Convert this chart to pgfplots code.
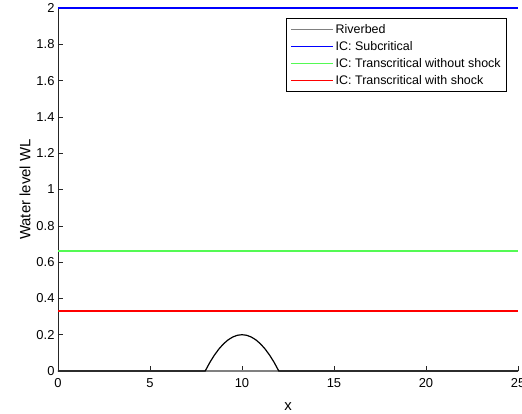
\documentclass[border=0pt]{standalone}
\usepackage[rgb]{xcolor}
\usepackage{pgfplots}
\pgfplotsset{compat=1.18}
\usepackage{fontspec}
\setmainfont{Liberation Sans}
\definecolor{axgray}{rgb}{0.15,0.15,0.15}
\definecolor{lgreen}{rgb}{0.33,0.98,0.33}
\definecolor{rbgray}{rgb}{0.5,0.5,0.5}
\definecolor{pblue}{rgb}{0,0,1}
\definecolor{pred}{rgb}{1,0,0}
\begin{document}
\begin{tikzpicture}
\begin{axis}[
  name=ax, at={(0,0)}, anchor=south west,
  scale only axis, width=460bp, height=363bp,
  xmin=0, xmax=25, ymin=0, ymax=2,
  xtick={0,5,10,15,20,25},
  ytick={0,0.2,0.4,0.6,0.8,1,1.2,1.4,1.6,1.8,2},
  yticklabels={0,0.2,0.4,0.6,0.8,1,1.2,1.4,1.6,1.8,2},
  xticklabels={0,5,10,15,20,25},
  axis x line*=bottom, axis y line*=left,
  axis line style={color=axgray, line width=0.8pt},
  tick style={color=axgray, line width=0.6pt},
  tick align=inside, major tick length=5bp,
  ticklabel style={font=\fontsize{13}{15}\selectfont},
  xticklabel style={yshift=-4pt},
  xlabel={x}, ylabel={Water level WL},
  label style={font=\fontsize{15}{17}\selectfont},
  xlabel style={yshift=-8pt},
  ylabel style={yshift=-1pt},
  clip=false,
  legend style={at={(0.976,0.972)}, anchor=north east, draw=black, line width=0.6pt,
    font=\fontsize{12.5}{15}\selectfont, inner xsep=4pt, inner ysep=4pt, row sep=2.4pt,
    legend cell align=left},
  legend image code/.code={\draw[#1] (0bp,0bp) -- (37bp,0bp); \path (0bp,0bp) -- (42bp,0bp);},
]
\addplot[color=rbgray, line width=1.4pt] coordinates {(0,0) (25,0)};
\addlegendentry{Riverbed}
\addplot[color=pblue, line width=1.4pt] coordinates {(0,2) (25,2)};
\addlegendentry{IC: Subcritical}
\addplot[color=lgreen, line width=1.5pt] coordinates {(0,0.66) (25,0.66)};
\addlegendentry{IC: Transcritical without shock}
\addplot[color=pred, line width=1.4pt] coordinates {(0,0.33) (25,0.33)};
\addlegendentry{IC: Transcritical with shock}
\addplot[color=black, line width=1.2pt, forget plot] coordinates {
(0,0) (8,0) (8.25,0.046875) (8.5,0.0875) (8.75,0.121875) (9,0.15) (9.25,0.171875)
(9.5,0.1875) (9.75,0.196875) (10,0.2) (10.25,0.196875) (10.5,0.1875) (10.75,0.171875)
(11,0.15) (11.25,0.121875) (11.5,0.0875) (11.75,0.046875) (12,0) (25,0)};
\end{axis}
\pgfresetboundingbox
\path[use as bounding box] (-58bp,-43bp) rectangle (464bp,371bp);
\end{tikzpicture}
\end{document}
